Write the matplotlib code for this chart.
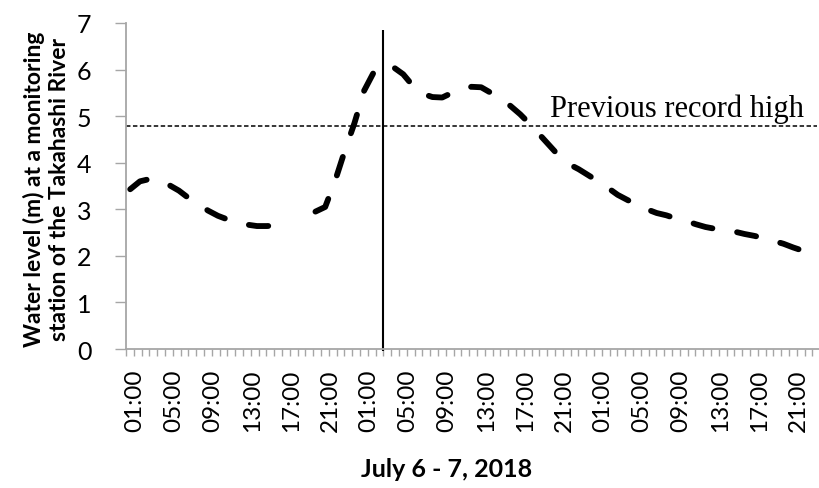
import numpy as np
import matplotlib
matplotlib.use("Agg")
import matplotlib.pyplot as plt

# water level readings, hours counted from 01:00 on the first day
hours = np.arange(-0.5, 72, 1.0)
level = [3.43, 3.60, 3.65, 3.62, 3.52, 3.40, 3.24, 3.10, 2.97, 2.86,
         2.78, 2.71, 2.67, 2.64, 2.64, 2.65, 2.68, np.nan, np.nan, 2.95,
         3.05, 3.60, 4.25, 4.85, 5.55, 5.95, 6.08, 6.05, 5.90, 5.65,
         5.48, 5.41, 5.40, 5.50, 5.58, 5.63, 5.62, 5.50, 5.36, 5.22,
         5.04, 4.83, 4.60, 4.37, 4.14, 3.97, 3.86, 3.73, 3.60, 3.46,
         3.31, 3.20, 3.09, 3.00, 2.92, 2.87, 2.80, 2.75, 2.68, 2.62,
         2.58, 2.55, 2.52, 2.47, 2.43, 2.38, 2.32, 2.26, 2.18, 2.11,
         2.04, 1.97, 1.90]

tick_labels = ["01:00", "05:00", "09:00", "13:00", "17:00", "21:00"] * 3
tick_hours = np.arange(0, 72, 4)

record_high = 4.79
event_hour = 25.4
event_top = 6.85

grey = "#a6a6a6"
plt.rcParams['font.family'] = ['Lato', 'DejaVu Sans']
plt.rcParams['lines.scale_dashes'] = False

fig = plt.figure(figsize=(8.2, 4.89), dpi=100)
ax = fig.add_axes([126 / 820, 139 / 489, 702 / 820, 326 / 489])

# main water level curve, thick dashes
ax.plot(hours, level, color="black", linewidth=4.2,
        dashes=(14, 18), dash_capstyle="round", solid_capstyle="round")

# previous record high
ax.plot([-0.93, 69.9], [record_high, record_high], color="black",
        linewidth=1.1, dashes=(3.2, 1.8))
ax.text(42.6, 5.0, "Previous record high", family="Liberation Serif",
        fontsize=22, ha="left", va="baseline")

# vertical marker line
ax.vlines(event_hour, -0.05, event_top, color="black", linewidth=1.5,
          clip_on=False)

ax.set_xlim(-0.93, -0.93 + 0.8 * 90)
ax.set_ylim(0, 7)

ax.set_yticks(range(0, 8))
ax.set_xticks(tick_hours)
ax.set_xticklabels(tick_labels, rotation=90)
ax.set_xticks(-0.93 + 0.8 * np.arange(0, 91), minor=True)

ax.tick_params(axis="x", which="major", length=0, pad=14, labelsize=17.5)
ax.tick_params(axis="x", which="minor", length=5, width=1.0, color=grey,
               direction="out")
ax.tick_params(axis="y", length=8, width=1.0, color=grey, pad=17,
               labelsize=18)

for s in ["top", "right"]:
    ax.spines[s].set_visible(False)
for s in ["left", "bottom"]:
    ax.spines[s].set_color(grey)
    ax.spines[s].set_linewidth(1.3)

fig.text(0.057, 0.612, "Water level (m) at a monitoring\nstation of the Takahashi River",
         rotation=90, ha="center", va="center", multialignment="center",
         fontsize=16.5, fontweight="bold", linespacing=1.25)
fig.text(447 / 820, 0.039, "July 6 - 7, 2018", ha="center", va="center",
         fontsize=18, fontweight="bold")

fig.savefig("out.png", dpi=100)
